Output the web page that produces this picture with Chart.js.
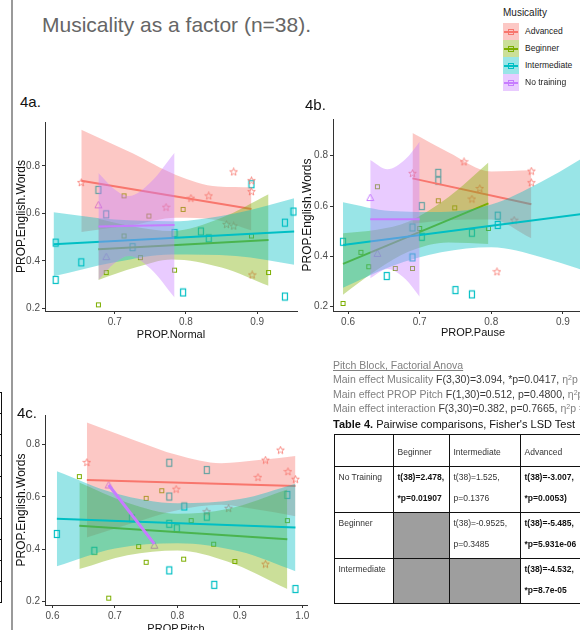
<!DOCTYPE html>
<html>
<head>
<meta charset="utf-8">
<script src="https://cdn.jsdelivr.net/npm/chart.js@4.4.1/dist/chart.umd.min.js"></script>
<style>
    body { margin: 0; width: 580px; height: 630px; overflow: hidden; position: relative; background: #fff;
           font-family: 'Liberation Sans', Arial, sans-serif; }
    .abs { position: absolute; }
    canvas { position: absolute; }
    .titulo { left: 42px; top: 13px; font-size: 21px; color: #666; white-space: nowrap; }
    .etiqueta { font-size: 15px; color: #111; }
    .ley { left: 503px; top: 6px; font-size: 8.5px; color: #222; }
    .ley .tit { font-size: 10px; height: 17px; line-height: 14px; }
    .ley .fila { position: relative; height: 17px; }
    .ley .caja { position: absolute; left: 0; top: 0; width: 16px; height: 17px; }
    .ley .raya { position: absolute; left: 1px; top: 7.5px; width: 14px; height: 2px; }
    .ley .cuad { position: absolute; left: 5px; top: 6px; width: 4px; height: 4px; border: 1px solid; }
    .ley .txt { position: absolute; left: 22px; top: 0; line-height: 17px; white-space: nowrap; }
    .anova { left: 333px; top: 358px; font-size: 10.5px; line-height: 14.3px; color: #808080; white-space: nowrap; }
    .anova b { font-weight: normal; color: #3a3a3a; }
    .anova sup { font-size: 7px; line-height: 0; vertical-align: 3px; }
    .cap { left: 333px; top: 418px; font-size: 11px; color: #111; white-space: nowrap; }
    table.t4 { position: absolute; left: 334px; top: 434px; width: 266px; border-collapse: collapse; font-size: 8.5px; color: #333; table-layout: fixed; }
    table.t4 td { border: 1.5px solid #111; padding: 0 0 0 3.5px; vertical-align: top; line-height: 21px; white-space: nowrap; overflow: hidden; }
    table.t4 tr.h td { padding-top: 7px; }
    table.t4 td.g { background: #9e9e9e; }
    table.t4 strong { color: #111; }
    .borde { left: 11px; top: 0; width: 2px; height: 630px; background: #9a9a9a; }
    .frag { left: -40px; top: 392px; width: 41px; border-right: 1.5px solid #111; border-top: 1px solid #111; }
    .frag div { height: 20px; border-bottom: 1px solid #111; }
</style>
</head>
<body>

<div class="abs borde"></div>
<div class="abs frag"><div></div><div></div><div></div><div></div><div></div><div></div><div></div><div></div><div></div><div></div></div>

<canvas id="g4a" width="288" height="230" style="left:14px;top:112px"></canvas>
<canvas id="g4b" width="320" height="231" style="left:300px;top:109px"></canvas>
<canvas id="g4c" width="300" height="231" style="left:14px;top:405px"></canvas>

<div class="abs titulo">Musicality as a factor (n=38).</div>
<div class="abs etiqueta" style="left:20px;top:93px">4a.</div>
<div class="abs etiqueta" style="left:305px;top:96px">4b.</div>
<div class="abs etiqueta" style="left:17px;top:404px">4c.</div>

<div class="abs ley" id="leyenda">
    <div class="tit">Musicality</div>
</div>

<div class="abs anova">
    <u>Pitch Block, Factorial Anova</u><br>
    Main effect Musicality <b>F(3,30)=3.094, *p=0.0417,</b> η<sup>2</sup>p = 0.236<br>
    Main effect PROP Pitch <b>F(1,30)=0.512, p=0.4800,</b> η<sup>2</sup>p = 0.017<br>
    Main effect interaction <b>F(3,30)=0.382, p=0.7665,</b> η<sup>2</sup>p = 0.037
</div>

<div class="abs cap"><strong>Table 4.</strong> Pairwise comparisons, Fisher's LSD Test</div>
<table class="t4">
    <colgroup><col style="width:59px"><col style="width:56px"><col style="width:71px"><col style="width:80px"></colgroup>
    <tr class="h" style="height:32px"><td></td><td>Beginner</td><td>Intermediate</td><td>Advanced</td></tr>
    <tr style="height:46px"><td>No Training</td><td><strong>t(38)=2.478,<br>*p=0.01907</strong></td><td>t(38)=1.525,<br>p=0.1376</td><td><strong>t(38)=-3.007,<br>*p=0.0053)</strong></td></tr>
    <tr style="height:46px"><td>Beginner</td><td class="g"></td><td>t(38)=-0.9525,<br>p=0.3485</td><td><strong>t(38)=-5.485,<br>*p=5.931e-06</strong></td></tr>
    <tr style="height:45px"><td>Intermediate</td><td class="g"></td><td class="g"></td><td><strong>t(38)=-4.532,<br>*p=8.7e-05</strong></td></tr>
</table>

<script>
//1. Datos
const grupos = ["Advanced", "Beginner", "Intermediate", "No training"];
const colores = ["#F8766D", "#7CAE00", "#00BFC4", "#C77CFF"];
const rellenos = ["rgba(248,118,109,0.4)", "rgba(124,174,0,0.4)", "rgba(0,191,196,0.4)", "rgba(199,124,255,0.4)"];
const ticksY = [0.2, 0.4, 0.6, 0.8];

// 4a. PROP.Normal
const normalTicksX = [0.7, 0.8, 0.9];
const normalAdvX = [0.653, 0.772, 0.807, 0.832, 0.867, 0.892, 0.892, 0.857, 0.867, 0.893];
const normalAdvY = [0.730, 0.626, 0.664, 0.674, 0.775, 0.738, 0.692, 0.554, 0.547, 0.341];
const normalBegX = [0.677, 0.688, 0.713, 0.713, 0.736, 0.748, 0.784, 0.796, 0.892, 0.916];
const normalBegY = [0.215, 0.351, 0.674, 0.505, 0.414, 0.589, 0.361, 0.617, 0.505, 0.351];
const normalIntX = [0.617, 0.653, 0.617, 0.677, 0.688, 0.725, 0.784, 0.796, 0.821, 0.832, 0.892, 0.939, 0.951, 0.939];
const normalIntY = [0.477, 0.394, 0.320, 0.699, 0.596, 0.458, 0.517, 0.267, 0.524, 0.495, 0.723, 0.561, 0.608, 0.250];
const normalNtX = [0.677, 0.688];
const normalNtY = [0.636, 0.418];
const normalAjusteX = [[0.653, 0.892], [0.677, 0.916], [0.614, 0.952], [0.677, 0.784]];
const normalAjusteY = [[0.738, 0.619], [0.449, 0.488], [0.470, 0.524], [0.545, 0.551]];
const normalBandaX = [[0.653, 0.725, 0.786, 0.845, 0.892], [0.677, 0.73, 0.78, 0.85, 0.916], [0.614, 0.70, 0.78, 0.87, 0.952], [0.677, 0.70, 0.72, 0.75, 0.784]];
const normalBandaHi = [[0.952, 0.853, 0.762, 0.713, 0.710], [0.578, 0.543, 0.526, 0.582, 0.681], [0.605, 0.574, 0.567, 0.601, 0.664], [0.770, 0.701, 0.673, 0.730, 0.856]];
const normalBandaLo = [[0.522, 0.551, 0.582, 0.571, 0.528], [0.320, 0.373, 0.406, 0.372, 0.295], [0.335, 0.394, 0.427, 0.421, 0.384], [0.320, 0.391, 0.421, 0.368, 0.246]];

// 4b. PROP.Pause
const pauseTicksX = [0.6, 0.7, 0.8, 0.9];
const pauseAdvX = [0.690, 0.762, 0.784, 0.773, 0.856, 0.856, 0.832, 0.808];
const pauseAdvY = [0.730, 0.776, 0.670, 0.628, 0.739, 0.693, 0.544, 0.339];
const pauseBegX = [0.593, 0.618, 0.629, 0.641, 0.666, 0.690, 0.700, 0.726, 0.749, 0.796];
const pauseBegY = [0.213, 0.416, 0.359, 0.677, 0.352, 0.352, 0.511, 0.621, 0.593, 0.511];
const pauseIntX = [0.593, 0.654, 0.690, 0.690, 0.703, 0.703, 0.726, 0.726, 0.750, 0.773, 0.773, 0.809, 0.809];
const pauseIntY = [0.458, 0.322, 0.515, 0.396, 0.600, 0.478, 0.732, 0.701, 0.266, 0.249, 0.494, 0.562, 0.525];
const pauseNtX = [0.631, 0.641];
const pauseNtY = [0.634, 0.412];
const pauseAjusteX = [[0.690, 0.856], [0.593, 0.796], [0.593, 0.970], [0.631, 0.700]];
const pauseAjusteY = [[0.710, 0.607], [0.370, 0.611], [0.445, 0.584], [0.548, 0.548]];
const pauseBandaX = [[0.690, 0.74, 0.80, 0.856], [0.593, 0.64, 0.685, 0.74, 0.796], [0.593, 0.66, 0.73, 0.80, 0.87, 0.970], [0.631, 0.655, 0.68, 0.700]];
const pauseBandaHi = [[0.890, 0.814, 0.737, 0.742], [0.492, 0.506, 0.539, 0.635, 0.773], [0.615, 0.580, 0.576, 0.606, 0.697, 0.864], [0.783, 0.746, 0.786, 0.856]];
const pauseBandaLo = [[0.530, 0.544, 0.547, 0.472], [0.248, 0.346, 0.419, 0.455, 0.449], [0.275, 0.360, 0.416, 0.436, 0.397, 0.304], [0.313, 0.350, 0.310, 0.240]];

// 4c. PROP.Pitch
const pitchTicksX = [0.6, 0.7, 0.8, 0.9, 1.0];
const pitchAdvX = [0.655, 0.798, 0.847, 0.882, 0.929, 0.941, 0.965, 0.977, 0.989, 0.941];
const pitchAdvY = [0.731, 0.629, 0.543, 0.556, 0.674, 0.740, 0.778, 0.696, 0.667, 0.343];
const pitchBegX = [0.643, 0.690, 0.738, 0.750, 0.750, 0.775, 0.810, 0.822, 0.858, 0.892, 0.976];
const pitchBegY = [0.677, 0.213, 0.410, 0.350, 0.594, 0.623, 0.362, 0.509, 0.419, 0.353, 0.509];
const pitchIntX = [0.607, 0.667, 0.727, 0.787, 0.787, 0.787, 0.787, 0.799, 0.811, 0.847, 0.847, 0.859, 0.976, 0.989];
const pitchIntY = [0.458, 0.394, 0.518, 0.730, 0.601, 0.497, 0.319, 0.480, 0.563, 0.702, 0.524, 0.264, 0.607, 0.248];
const pitchNtX = [0.690, 0.763];
const pitchNtY = [0.645, 0.415];
const pitchAjusteX = [[0.655, 0.989], [0.643, 0.976], [0.607, 0.989], [0.690, 0.763]];
const pitchAjusteY = [[0.664, 0.641], [0.489, 0.438], [0.516, 0.483], [0.645, 0.420]];
const pitchBandaX = [[0.655, 0.73, 0.80, 0.87, 0.93, 0.989], [0.643, 0.72, 0.80, 0.88, 0.976], [0.607, 0.70, 0.80, 0.90, 0.989]];
const pitchBandaHi = [[0.883, 0.817, 0.759, 0.728, 0.740, 0.756], [0.654, 0.577, 0.535, 0.553, 0.628], [0.697, 0.613, 0.575, 0.591, 0.650]];
const pitchBandaLo = [[0.445, 0.501, 0.549, 0.570, 0.550, 0.526], [0.324, 0.377, 0.395, 0.353, 0.248], [0.335, 0.403, 0.423, 0.391, 0.316]];


//2. Marcadores huecos como en ggplot
function marcador(tipo, color) {
    const c = document.createElement("canvas");
    const dims = { star: [9, 9], rect: [8, 10], sq: [7, 7], tri: [9, 9] }[tipo];
    c.width = dims[0];
    c.height = dims[1];
    const ctx = c.getContext("2d");
    ctx.strokeStyle = color;
    ctx.lineWidth = 1;
    if (tipo === "star") {
        ctx.lineWidth = 0.8;
        ctx.beginPath();
        for (let i = 0; i < 10; i++) {
            const r = i % 2 === 0 ? 4 : 1.7;
            const a = -Math.PI / 2 + i * Math.PI / 5;
            const px = 4.5 + r * Math.cos(a), py = 4.7 + r * Math.sin(a);
            if (i === 0) ctx.moveTo(px, py); else ctx.lineTo(px, py);
        }
        ctx.closePath();
        ctx.stroke();
    } else if (tipo === "rect") {
        ctx.lineWidth = 1.2;
        ctx.strokeRect(1.5, 1.5, 5, 7);
    } else if (tipo === "sq") {
        ctx.strokeRect(1.5, 1.5, 4, 4);
    } else {
        ctx.beginPath();
        ctx.moveTo(4.5, 1);
        ctx.lineTo(8, 7.5);
        ctx.lineTo(1, 7.5);
        ctx.closePath();
        ctx.stroke();
    }
    return c;
}
const formas = [marcador("star", colores[0]), marcador("sq", colores[1]), marcador("rect", colores[2]), marcador("tri", colores[3])];

const aPuntos = (xs, ys) => xs.map((x, i) => ({ x: x, y: ys[i] }));

function puntos(xs, ys, g) {
    return { data: aPuntos(xs, ys), showLine: false, pointStyle: formas[g], pointRadius: 3, order: 100 };
}
function recta(xs, ys, g, ancho) {
    return { data: aPuntos(xs, ys), showLine: true, borderColor: colores[g], borderWidth: ancho,
             pointRadius: 0, fill: false, order: 39 - g * 10 };
}
function banda(xs, hi, lo, g) {
    return [
        { data: aPuntos(xs, hi), showLine: true, borderWidth: 0, pointRadius: 0, fill: "+1",
          backgroundColor: rellenos[g], cubicInterpolationMode: "monotone", order: 40 - g * 10 },
        { data: aPuntos(xs, lo), showLine: true, borderWidth: 0, pointRadius: 0, fill: false,
          cubicInterpolationMode: "monotone", order: 40 - g * 10 }
    ];
}

//3. Creamos cada gráfica
function crearGrafica(id, cfg) {
    const fuente = "'Liberation Sans', Arial, sans-serif";
    new Chart(document.getElementById(id), {
        type: "line",
        data: { datasets: cfg.datasets },
        options: {
            responsive: false,
            animation: false,
            devicePixelRatio: 1,
            layout: { padding: { top: cfg.padTop, right: cfg.padRight, left: 0, bottom: 0 } },
            plugins: { legend: { display: false }, tooltip: { enabled: false } },
            scales: {
                x: {
                    type: "linear", min: cfg.xMin, max: cfg.xMax,
                    afterBuildTicks: (s) => { s.ticks = cfg.ticksX.map((v) => ({ value: v })); },
                    afterFit: (s) => { s.height = cfg.xAxisH; },
                    ticks: { color: "#4d4d4d", font: { size: 10, family: fuente }, padding: 2, maxRotation: 0,
                             callback: (v) => v.toFixed(1) },
                    grid: { drawOnChartArea: false, tickLength: 3, color: "#333" },
                    border: { color: "#333", width: 1 },
                    title: { display: true, text: cfg.tituloX, color: "#111", font: { size: 11, family: fuente }, padding: 0 }
                },
                y: {
                    type: "linear", min: cfg.yMin, max: cfg.yMax,
                    afterBuildTicks: (s) => { s.ticks = ticksY.map((v) => ({ value: v })); },
                    afterFit: (s) => { s.width = cfg.yAxisW; },
                    ticks: { color: "#4d4d4d", font: { size: 10, family: fuente }, padding: 2,
                             callback: (v) => v.toFixed(1) },
                    grid: { drawOnChartArea: false, tickLength: 3, color: "#333" },
                    border: { color: "#333", width: 1 },
                    title: { display: true, text: "PROP.English.Words", color: "#111", font: { size: 12, family: fuente }, padding: 0 }
                }
            }
        }
    });
}

function series(puntosX, puntosY, ajX, ajY, bX, bHi, bLo, anchos) {
    let ds = [];
    for (let g = 0; g < 4; g++) ds.push(puntos(puntosX[g], puntosY[g], g));
    for (let g = 0; g < 4; g++) {
        if (bX[g]) ds = ds.concat(banda(bX[g], bHi[g], bLo[g], g));
        ds.push(recta(ajX[g], ajY[g], g, anchos[g]));
    }
    return ds;
}

crearGrafica("g4a", {
    datasets: series([normalAdvX, normalBegX, normalIntX, normalNtX], [normalAdvY, normalBegY, normalIntY, normalNtY],
        normalAjusteX, normalAjusteY, normalBandaX, normalBandaHi, normalBandaLo, [2, 2, 2, 2]),
    xMin: 0.602, xMax: 0.956, yMin: 0.189, yMax: 0.985, ticksX: normalTicksX, tituloX: "PROP.Normal",
    padTop: 10, padRight: 4, yAxisW: 31, xAxisH: 31
});

crearGrafica("g4b", {
    datasets: series([pauseAdvX, pauseBegX, pauseIntX, pauseNtX], [pauseAdvY, pauseBegY, pauseIntY, pauseNtY],
        pauseAjusteX, pauseAjusteY, pauseBandaX, pauseBandaHi, pauseBandaLo, [2, 2, 2, 2]),
    xMin: 0.579, xMax: 0.970, yMin: 0.183, yMax: 0.946, ticksX: pauseTicksX, tituloX: "PROP.Pause",
    padTop: 10, padRight: 7, yAxisW: 33, xAxisH: 29
});

crearGrafica("g4c", {
    datasets: series([pitchAdvX, pitchBegX, pitchIntX, pitchNtX], [pitchAdvY, pitchBegY, pitchIntY, pitchNtY],
        pitchAjusteX, pitchAjusteY, pitchBandaX, pitchBandaHi, pitchBandaLo, [2, 2, 2, 3]),
    xMin: 0.588, xMax: 1.0075, yMin: 0.187, yMax: 0.912, ticksX: pitchTicksX, tituloX: "PROP.Pitch",
    padTop: 10, padRight: 7, yAxisW: 31, xAxisH: 31
});

//4. Leyenda de Musicality
const leyenda = document.getElementById("leyenda");
grupos.forEach((nombre, g) => {
    leyenda.innerHTML += `
        <div class="fila">
            <div class="caja" style="background:${rellenos[g]}"></div>
            <div class="raya" style="background:${colores[g]}"></div>
            <div class="cuad" style="border-color:${colores[g]}"></div>
            <div class="txt">${nombre}</div>
        </div>`;
});
</script>
</body>
</html>
